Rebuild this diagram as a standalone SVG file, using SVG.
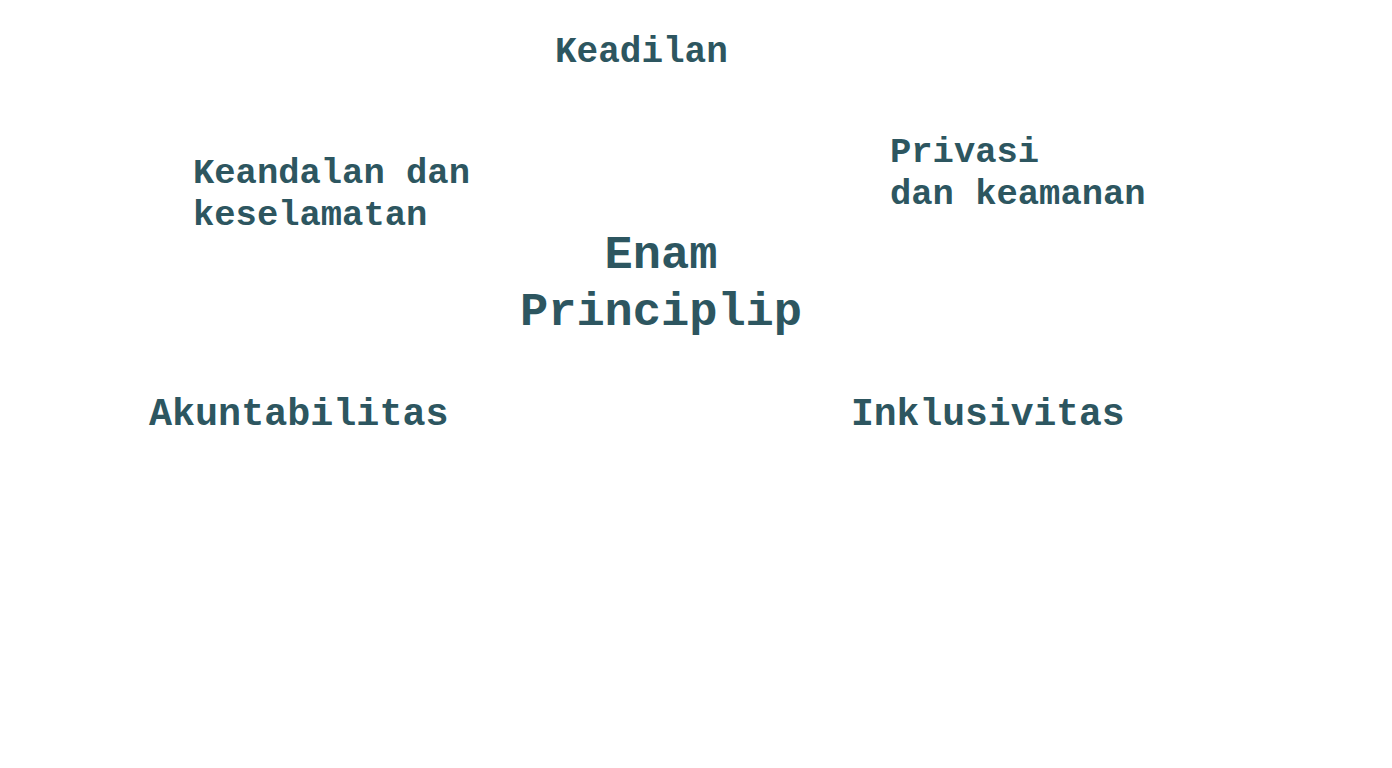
<svg xmlns="http://www.w3.org/2000/svg" width="1392" height="768" viewBox="0 0 1392 768">
<style>
text{font-family:"Liberation Mono","Courier New",monospace;font-weight:bold;fill:#2d5660}
.s{font-size:36px}
.t{font-size:35.5px}
.m{font-size:38px}
.l{font-size:47px}
</style>
<rect width="1392" height="768" fill="#ffffff"/>
<g id="center"><text class="l" x="661" y="268" text-anchor="middle">Enam</text><text class="l" x="661" y="325" text-anchor="middle">Principlip</text></g>
<g id="keadilan"><text class="s" x="555" y="62">Keadilan</text></g>
<g id="keandalan"><text class="t" x="193" y="183">Keandalan dan</text><text class="t" x="193" y="225">keselamatan</text></g>
<g id="privasi"><text class="t" x="890" y="162">Privasi</text><text class="t" x="890" y="204">dan keamanan</text></g>
<g id="akuntabilitas"><text class="m" x="149" y="425" style="font-size:38.4px">Akuntabilitas</text></g>
<g id="inklusivitas"><text class="m" x="851" y="425">Inklusivitas</text></g>
<g id="connectors"></g>
</svg>
